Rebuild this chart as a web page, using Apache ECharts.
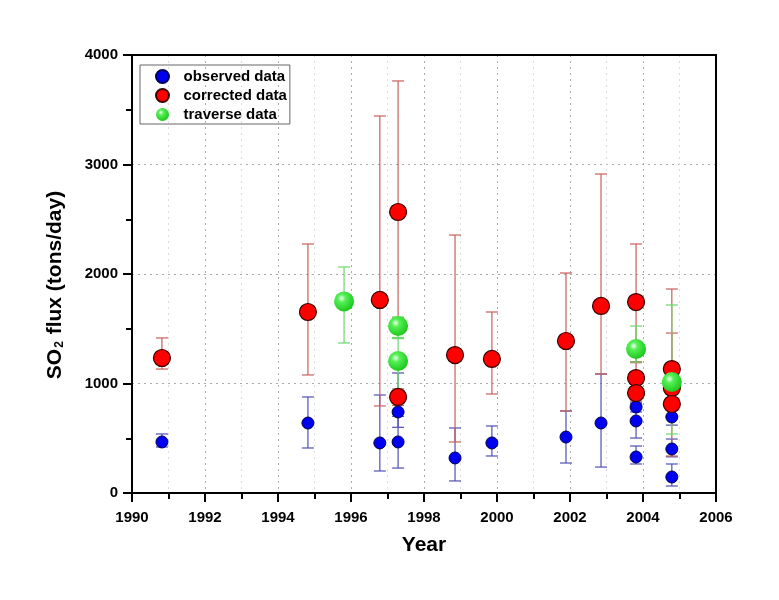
<!DOCTYPE html>
<html>
<head>
<meta charset="utf-8">
<script src="https://cdn.jsdelivr.net/npm/echarts@6/dist/echarts.min.js"></script>
<style>html,body{margin:0;padding:0;background:#fff;}#c{width:779px;height:600px;}</style>
</head>
<body>
<div id="c"></div>
<script>
// ---- data ----
const xTickLabels = ['1990','1992','1994','1996','1998','2000','2002','2004','2006'];
const yTickLabels = ['0','1000','2000','3000','4000'];

const obsYears = [1990.82, 1994.82, 1996.79, 1997.29, 1997.29, 1998.85, 1999.86, 2001.89, 2002.85, 2003.81, 2003.81, 2003.81, 2004.79, 2004.79, 2004.79];
const obsValues = [466, 639, 457, 740, 466, 320, 457, 511, 639, 785, 658, 329, 694, 402, 146];
const obsLow    = [420, 411, 201, 600, 228, 110, 338, 274, 237, 740, 502, 265, 620, 330, 64];
const obsHigh   = [539, 877, 895, 1096, 700, 594, 612, 749, 1087, 830, 815, 429, 760, 493, 265];

const corYears = [1990.82, 1994.82, 1996.79, 1997.29, 1997.29, 1998.85, 1999.86, 2001.89, 2002.85, 2003.81, 2003.81, 2003.81, 2004.79, 2004.79, 2004.79];
const corValues = [1233, 1653, 1763, 2566, 877, 1260, 1224, 1388, 1708, 1744, 1050, 913, 1132, 959, 813];
const corLow    = [1132, 1078, 795, 1600, 800, 466, 904, 749, 1087, 1200, 960, 840, 1000, 700, 338];
const corHigh   = [1416, 2274, 3443, 3763, 950, 2356, 1653, 2009, 2913, 2274, 1190, 1000, 1863, 1461, 1187];

const travYears = [1995.81, 1997.29, 1997.29, 2003.81, 2004.79];
const travValues = [1750, 1525, 1205, 1315, 1014];
const travLow    = [1370, 1410, 900, 1196, 539];
const travHigh   = [2064, 1607, 1420, 1525, 1717];

// ---- build ----
const FONT = 'Liberation Sans';
function pts(xs, ys){ return xs.map((x,i)=>[x, ys[i]]); }
function errs(xs, lo, hi){ return xs.map((x,i)=>[x, lo[i], hi[i]]); }
function errSeries(data, color){
  return {
    type:'custom', silent:true, z:1,
    encode:{x:0, y:[1,2]},
    data:data,
    renderItem:function(params, api){
      const x = api.value(0);
      const a = api.coord([x, api.value(1)]);
      const b = api.coord([x, api.value(2)]);
      const w = 6;
      const st = {stroke:color, lineWidth:1.2};
      return {type:'group', children:[
        {type:'line', shape:{x1:a[0],y1:a[1],x2:b[0],y2:b[1]}, style:st},
        {type:'line', shape:{x1:a[0]-w,y1:a[1],x2:a[0]+w,y2:a[1]}, style:st},
        {type:'line', shape:{x1:b[0]-w,y1:b[1],x2:b[0]+w,y2:b[1]}, style:st}
      ]};
    }
  };
}
const greenGrad = new echarts.graphic.RadialGradient(0.38, 0.35, 0.65, [
  {offset:0, color:'#f2fff2'},
  {offset:0.3, color:'#55f055'},
  {offset:1, color:'#1ec81e'}
]);
const frameAxis = {
  axisLine:{show:true, onZero:false, lineStyle:{color:'#000', width:2}},
  axisTick:{show:false}, axisLabel:{show:false}, splitLine:{show:false}
};

const chart = echarts.init(document.getElementById('c'), null, {renderer:'canvas'});
chart.setOption({
  backgroundColor:'#ffffff',
  animation:false,
  grid:{left:132, right:63, top:55, bottom:107, show:false},
  legend:{
    left:140, top:65, orient:'vertical',
    data:['observed data','corrected data','traverse data'],
    borderColor:'#666', borderWidth:1, borderRadius:0,
    padding:[4,3,2,15], itemGap:4, itemWidth:32, itemHeight:13,
    textStyle:{fontFamily:FONT, fontWeight:'bold', fontSize:15, color:'#000'}
  },
  xAxis:[{
    type:'value', min:1990, max:2006, interval:2,
    name:'Year', nameLocation:'middle', nameGap:42,
    nameTextStyle:{fontFamily:FONT, fontWeight:'bold', fontSize:21, color:'#000'},
    axisLine:{onZero:false, lineStyle:{color:'#000', width:2}},
    axisTick:{show:true, inside:false, length:9, lineStyle:{color:'#000', width:2}},
    minorTick:{show:true, splitNumber:2, length:6, lineStyle:{color:'#000', width:2}},
    axisLabel:{margin:17, fontFamily:FONT, fontWeight:'bold', fontSize:15, color:'#000',
      formatter:function(v){ const i = Math.round((v-1990)/2); return xTickLabels[i] !== undefined ? xTickLabels[i] : ''; }},
    splitLine:{show:true, lineStyle:{color:'#aaaaaa', type:[2,4], width:1}},
    minorSplitLine:{show:true, lineStyle:{color:'#dddddd', type:[2,4], width:1}}
  }, Object.assign({type:'value', min:1990, max:2006, position:'top'}, frameAxis)],
  yAxis:[{
    type:'value', min:0, max:4000, interval:1000,
    name:'{a|SO}{b|2}{a| flux (tons/day)}', nameLocation:'middle', nameGap:66, nameRotate:90,
    nameTextStyle:{padding:[0,22,0,0], rich:{
      a:{fontFamily:FONT, fontWeight:'bold', fontSize:21, color:'#000'},
      b:{fontFamily:FONT, fontWeight:'bold', fontSize:12, color:'#000', padding:[10,1,0,1]}
    }},
    axisLine:{onZero:false, lineStyle:{color:'#000', width:2}},
    axisTick:{show:true, inside:false, length:9, lineStyle:{color:'#000', width:2}},
    minorTick:{show:true, splitNumber:2, length:6, lineStyle:{color:'#000', width:2}},
    axisLabel:{margin:14, fontFamily:FONT, fontWeight:'bold', fontSize:15, color:'#000',
      formatter:function(v){ const i = Math.round(v/1000); return yTickLabels[i] !== undefined ? yTickLabels[i] : ''; }},
    splitLine:{show:true, lineStyle:{color:'#aaaaaa', type:[2,4], width:1}},
    minorSplitLine:{show:false}
  }, Object.assign({type:'value', min:0, max:4000, position:'right'}, frameAxis)],
  series:[
    errSeries(errs(obsYears, obsLow, obsHigh), '#5050b4'),
    errSeries(errs(corYears, corLow, corHigh), '#c8605a'),
    errSeries(errs(travYears, travLow, travHigh), '#6ad86a'),
    {name:'observed data', type:'scatter', z:3, symbol:'circle', symbolSize:12,
      itemStyle:{color:'#0000f0', borderColor:'#000050', borderWidth:1, opacity:1},
      data:pts(obsYears, obsValues)},
    {name:'corrected data', type:'scatter', z:4, symbol:'circle', symbolSize:17,
      itemStyle:{color:'#ff0000', borderColor:'#3a0000', borderWidth:1.2, opacity:1},
      data:pts(corYears, corValues)},
    {name:'traverse data', type:'scatter', z:5, symbol:'circle', symbolSize:20,
      itemStyle:{color:greenGrad, borderWidth:0, opacity:1},
      data:pts(travYears, travValues)}
  ]
});
</script>
</body>
</html>
